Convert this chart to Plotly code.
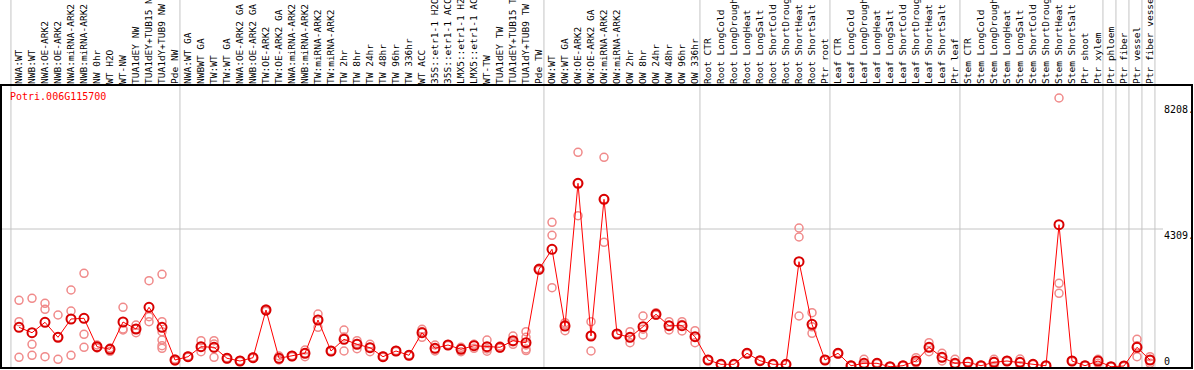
import plotly.graph_objects as go

labels = [
    "NWA:WT", "NWB:WT", "NWA:OE-ARK2", "NWB:OE-ARK2", "NWA:miRNA-ARK2", "NWB:miRNA-ARK2",
    "NW 0hr", "WT H2O", "WT-NW", "TUA1dEY NW", "TUA1dEY+TUB15 NW", "TUA1dY+TUB9 NW", "Pde NW",
    "NWA:WT GA", "NWBWT GA", "TW:WT", "TW:WT GA", "NWA:OE-ARK2 GA", "NWB:OE-ARK2 GA",
    "TW:OE-ARK2", "TW:OE-ARK2 GA", "NWA:miRNA-ARK2", "NWB:miRNA-ARK2", "TW:miRNA-ARK2",
    "TW:miRNA-ARK2", "TW 2hr", "TW 8hr", "TW 24hr", "TW 48hr", "TW 96hr", "TW 336hr",
    "WT ACC", "35S::etr1-1 H2O", "35S::etr1-1 ACC", "LMX5::etr1-1 H2O", "LMX5::etr1-1 ACC",
    "WT-TW", "TUA1dEY TW", "TUA1dEY+TUB15 TW", "TUA1dY+TUB9 TW", "Pde TW",
    "OW:WT", "OW:WT GA", "OW:OE-ARK2", "OW:OE-ARK2 GA", "OW:miRNA-ARK2", "OW:miRNA-ARK2",
    "OW 2hr", "OW 8hr", "OW 24hr", "OW 48hr", "OW 96hr", "OW 336hr",
    "Root CTR", "Root LongCold", "Root LongDrought", "Root LongHeat", "Root LongSalt",
    "Root ShortCold", "Root ShortDrought", "Root ShortHeat", "Root ShortSalt", "Ptr root",
    "Leaf CTR", "Leaf LongCold", "Leaf LongDrought", "Leaf LongHeat", "Leaf LongSalt",
    "Leaf ShortCold", "Leaf ShortDrought", "Leaf ShortHeat", "Leaf ShortSalt", "Ptr leaf",
    "Stem CTR", "Stem LongCold", "Stem LongDrought", "Stem LongHeat", "Stem LongSalt",
    "Stem ShortCold", "Stem ShortDrought", "Stem ShortHeat", "Stem ShortSalt", "Ptr shoot",
    "Ptr xylem", "Ptr phloem", "Ptr fiber", "Ptr vessel", "Ptr fiber vessel",
]

means = [
    1262, 1094, 1417, 952, 1519, 1541, 660, 580, 1426, 1209, 1882, 1262, 248,
    350, 660, 642, 301, 217, 319, 1798, 301, 372, 456, 1488, 527, 890, 735, 629,
    350, 527, 394, 1094, 611, 713, 580, 691, 660, 642, 846, 784, 3060,
    3680, 1302, 5726, 992, 5230, 1054, 952, 1280, 1665, 1311, 1311, 970,
    248, 115, 115, 456, 226, 115, 115, 3295, 1355, 248,
    456, 71, 146, 146, 40, 71, 217, 642, 332, 146,
    177, 71, 177, 217, 177, 115, 71, 4442, 217, 71,
    217, 40, 62, 642, 248,
]

replicates = [
    [2099, 1435, 330], [2161, 735, 394], [2006, 1820, 350], [1643, 961, 270],
    [2418, 1767, 394], [2936, 1045, 642], [713, 651, 620], [589, 518, 620],
    [1882, 1178, 1209], [1333, 1094, 1209], [2706, 1590, 1435],
    [2905, 1435, 1125, 868, 691, 611], [248, 279, 217],
    [350, 330, 370], [846, 505, 651], [846, 332, 744], [301, 280, 320],
    [217, 200, 235], [319, 300, 340], [1798, 1760, 1830], [372, 280, 250],
    [372, 350, 390], [558, 350, 460], [1674, 1262, 1500], [527, 510, 545],
    [1178, 527, 961], [846, 598, 760], [735, 505, 647], [350, 330, 370],
    [527, 510, 545], [394, 380, 410], [1200, 952, 1130], [713, 527, 593],
    [713, 700, 726], [642, 505, 593], [735, 611, 727], [868, 589, 523],
    [682, 620, 624], [992, 735, 811], [1125, 952, 713, 589, 540], [3060, 3030, 3090],
    [4517, 4114, 2489], [1404, 1156, 1346], [6687, 5726, 4721], [1435, 527, 1014],
    [6532, 3897, 5239], [1054, 1040, 1070], [1125, 784, 947], [1612, 1023, 1205],
    [1714, 1640, 1641], [1435, 1178, 1320], [1435, 1147, 1351], [1156, 784, 970],
    [248, 260, 236], [115, 100, 130], [115, 110, 120], [456, 440, 472],
    [226, 210, 242], [115, 105, 125], [115, 100, 130], [4340, 4061, 1612],
    [1714, 1076, 1275], [248, 230, 266],
    [456, 440, 472], [71, 60, 82], [270, 100, 68], [146, 130, 162], [40, 30, 50],
    [71, 60, 82], [319, 170, 162], [784, 505, 637], [456, 217, 323], [270, 40, 128],
    [177, 160, 194], [71, 60, 82], [270, 62, 199], [217, 200, 234], [279, 71, 181],
    [115, 105, 125], [71, 60, 82], [8370, 2626, 2316], [217, 200, 234], [71, 60, 82],
    [270, 146, 235], [40, 30, 50], [62, 50, 74], [890, 350, 686], [350, 146, 248],
]

# first index of each separated group
group_starts = [0, 13, 41, 53, 63, 73, 84, 85, 86, 87, 88]
title_text = "Potri.006G115700"
ytick_vals = [8208, 4309, 0]
ytick_text = ["8208.", "4309.", "0"]

W, H = 1194, 370
ML, MR, MT, MB = 1, 2, 85, 2
XR = [-1.385, 90.23]
YR = [0, 8773]
plot_w = W - ML - MR
plot_h = H - MT - MB
FONT = "DejaVu Sans Mono"

n = len(labels)
xs = list(range(n))

rx, ry = [], []
for i, reps in enumerate(replicates):
    for v in reps:
        rx.append(i)
        ry.append(v)

fig = go.Figure()
fig.add_trace(go.Scatter(
    x=rx, y=ry, mode="markers",
    marker=dict(symbol="circle-open", size=8, color="#f08a8a", line=dict(width=1.5, color="#f08a8a")),
    hoverinfo="skip", showlegend=False,
))
fig.add_trace(go.Scatter(
    x=xs, y=means, mode="lines+markers",
    line=dict(color="#ff0000", width=1),
    marker=dict(symbol="circle-open", size=9, color="#d80000", line=dict(width=2, color="#d80000")),
    showlegend=False,
))

def xpaper(v):
    return (v - XR[0]) / (XR[1] - XR[0])

def ypaper(v):
    return (v - YR[0]) / (YR[1] - YR[0])

shapes = []
top_paper = 1 + MT / plot_h
for g in group_starts:
    xp = xpaper(g - 0.62)
    shapes.append(dict(type="line", xref="paper", yref="paper", x0=xp, x1=xp, y0=0, y1=top_paper,
                       line=dict(color="#c4c4c4", width=1), layer="below"))
label_left = (1163 - ML) / plot_w
shapes.append(dict(type="line", xref="paper", yref="paper", x0=0, x1=label_left,
                   y0=ypaper(4309), y1=ypaper(4309), line=dict(color="#c4c4c4", width=1), layer="below"))
# frame
shapes.append(dict(type="rect", xref="paper", yref="paper", x0=0, x1=1, y0=0, y1=1,
                   line=dict(color="black", width=2), layer="above"))

annotations = [dict(
    xref="paper", yref="paper", x=(9 - ML) / plot_w, y=1 - (97 - MT) / plot_h,
    xanchor="left", yanchor="middle", text=title_text, showarrow=False,
    font=dict(family=FONT, size=10, color="#ff0000"), borderpad=0,
)]
for v, t in zip(ytick_vals, ytick_text):
    annotations.append(dict(
        xref="paper", yref="y", x=label_left, y=v,
        xanchor="left", yanchor="bottom" if v == 0 else "top",
        text=t, showarrow=False, font=dict(family=FONT, size=10, color="black"), borderpad=0,
    ))

fig.update_layout(
    width=W, height=H,
    margin=dict(l=ML, r=MR, t=MT, b=MB, pad=0, autoexpand=False),
    paper_bgcolor="white", plot_bgcolor="white",
    shapes=shapes, annotations=annotations,
    xaxis=dict(
        range=XR, side="top", tickmode="array", tickvals=xs, ticktext=labels,
        tickangle=-90, tickfont=dict(family=FONT, size=9.5, color="black"),
        showgrid=False, zeroline=False, showline=False, ticks="", ticklabelstandoff=0,
        automargin=False,
    ),
    yaxis=dict(range=YR, showgrid=False, zeroline=False, showticklabels=False, showline=False,
               ticks="", automargin=False),
)

fig.write_html(
    "out.html",
    config={"displayModeBar": False},
    post_script="document.body.style.margin='0';document.body.style.padding='0';"
                "document.body.style.overflow='hidden';",
)
